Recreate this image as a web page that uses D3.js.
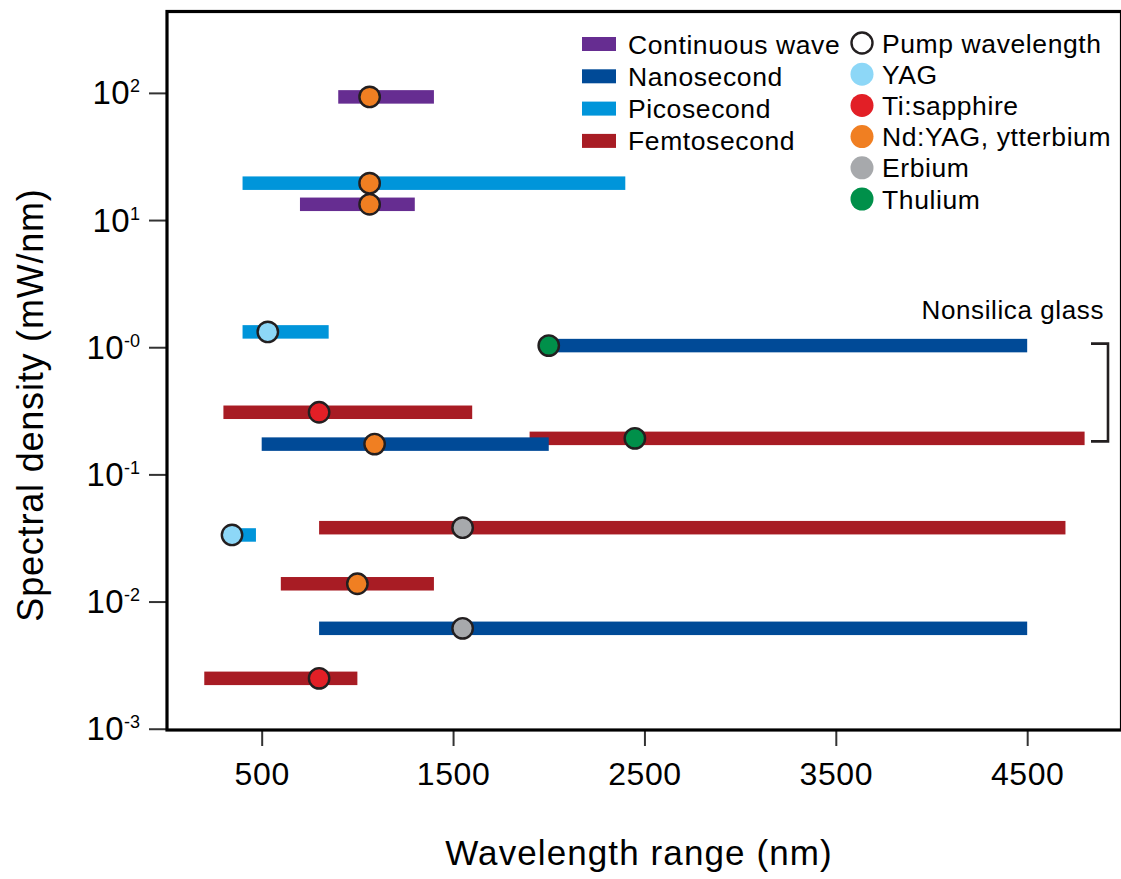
<!DOCTYPE html>
<html>
<head>
<meta charset="utf-8">
<script src="https://cdn.jsdelivr.net/npm/d3@7"></script>
<style>
  html, body { margin: 0; padding: 0; background: #fff; }
  svg { display: block; font-family: "Liberation Sans", Arial, Helvetica, sans-serif; }
</style>
</head>
<body>
<svg id="chart" width="1121" height="879"></svg>
<script>
// Pulse regimes (bar colour)
const regimeNames  = ["Continuous wave", "Nanosecond", "Picosecond", "Femtosecond"];
const regimeColors = ["#662d91", "#004a97", "#0095da", "#a81c24"];

// Pump lasers (dot colour)
const pumpNames  = ["YAG", "Ti:sapphire", "Nd:YAG, ytterbium", "Erbium", "Thulium"];
const pumpColors = ["#8dd7f7", "#e21f26", "#f07f22", "#a7a9ac", "#00904a"];

// One entry per supercontinuum source
const srcRegime  = ["Continuous wave", "Picosecond", "Continuous wave", "Picosecond", "Nanosecond",
                    "Femtosecond", "Femtosecond", "Nanosecond", "Femtosecond", "Picosecond",
                    "Femtosecond", "Nanosecond", "Femtosecond"];
const srcMinNm   = [900, 400, 700, 400, 2000, 300, 1900, 500, 800, 345, 600, 800, 200];
const srcMaxNm   = [1400, 2400, 1300, 850, 4500, 1600, 4800, 2000, 4700, 470, 1400, 4500, 1000];
const srcDensity = [93, 19.5, 13.3, 1.32, 1.03, 0.308, 0.192, 0.173, 0.0381, 0.0334, 0.0138, 0.00616, 0.00249];
const srcPumpNm  = [1064, 1064, 1064, 532, 2000, 800, 2450, 1090, 1550, 345, 1000, 1550, 800];
const srcPump    = ["Nd:YAG, ytterbium", "Nd:YAG, ytterbium", "Nd:YAG, ytterbium", "YAG", "Thulium",
                    "Ti:sapphire", "Thulium", "Nd:YAG, ytterbium", "Erbium", "YAG",
                    "Nd:YAG, ytterbium", "Erbium", "Ti:sapphire"];

// Sources fabricated in nonsilica glass (bracketed)
const nonsilicaIdx = [4, 6];

// Axis ticks
const xTicks   = [500, 1500, 2500, 3500, 4500];
const yTicks   = [1e2, 1e1, 1e0, 1e-1, 1e-2, 1e-3];
const yTickExp = ["2", "1", "-0", "-1", "-2", "-3"];

const svg = d3.select("#chart");
const ink = "#231f20";

const x = d3.scaleLinear().domain([0, 4985]).range([166, 1120]);
const y = d3.scaleLog().domain([Math.pow(10, -3.01), Math.pow(10, 2.64)]).range([730, 11.5]);

const regimeColor = d3.scaleOrdinal().domain(regimeNames).range(regimeColors);
const pumpColor   = d3.scaleOrdinal().domain(pumpNames).range(pumpColors);

const rows = srcRegime.map((r, i) => ({
  regime: r, lo: srcMinNm[i], hi: srcMaxNm[i], d: srcDensity[i], pumpNm: srcPumpNm[i], pump: srcPump[i]
}));

// Bottom axis
const xAxis = d3.axisBottom(x).tickValues(xTicks).tickSize(16).tickPadding(16).tickFormat(d3.format("d"));
const gx = svg.append("g").attr("transform", "translate(0,730)").call(xAxis);
gx.select(".domain").remove();
gx.selectAll(".tick line").attr("stroke", "#333").attr("stroke-width", 2);
gx.selectAll(".tick text").attr("fill", "#000").attr("font-size", 32)
  .attr("font-family", "Liberation Sans, Arial, sans-serif").attr("letter-spacing", 0.6);

// Left axis with power-of-ten labels
const yAxis = d3.axisLeft(y).tickValues(yTicks).tickSize(17).tickFormat("");
const gy = svg.append("g").attr("transform", "translate(166,0)").call(yAxis);
gy.select(".domain").remove();
gy.selectAll(".tick line").attr("stroke", "#333").attr("stroke-width", 2);
gy.selectAll(".tick text").each(function (d, i) {
  const t = d3.select(this).attr("x", -26).attr("dy", null).attr("y", 11)
    .attr("fill", "#000").attr("text-anchor", "end")
    .attr("font-family", "Liberation Sans, Arial, sans-serif");
  t.text(null);
  t.append("tspan").attr("font-size", 33).attr("letter-spacing", 0.4).text("10");
  t.append("tspan").attr("font-size", 18).attr("dy", -12).text(yTickExp[i]);
});

// Plot frame
svg.append("rect")
  .attr("x", 167).attr("y", 11.5)
  .attr("width", 1121.5 - 167).attr("height", 730 - 11.5)
  .attr("fill", "none").attr("stroke", "#000").attr("stroke-width", 3.2);

// Wavelength-range bars
const barH = 13.5;
svg.append("g").selectAll("rect").data(rows).join("rect")
  .attr("x", d => x(d.lo))
  .attr("y", d => y(d.d) - barH / 2)
  .attr("width", d => x(d.hi) - x(d.lo))
  .attr("height", barH)
  .attr("fill", d => regimeColor(d.regime));

// Pump-wavelength dots
svg.append("g").selectAll("circle").data(rows).join("circle")
  .attr("cx", d => x(d.pumpNm))
  .attr("cy", d => y(d.d))
  .attr("r", 10.2)
  .attr("fill", d => pumpColor(d.pump))
  .attr("stroke", ink).attr("stroke-width", 2.4);

// Nonsilica glass bracket
const bTop = y(rows[nonsilicaIdx[0]].d) - 2;
const bBot = y(rows[nonsilicaIdx[1]].d) + 3;
svg.append("path")
  .attr("d", `M1091,${bTop}H1108V${bBot}H1091`)
  .attr("fill", "none").attr("stroke", ink).attr("stroke-width", 2.6);
svg.append("text")
  .attr("x", 1104).attr("y", 319).attr("text-anchor", "end")
  .attr("font-size", 26).attr("letter-spacing", 0.6).attr("fill", "#000")
  .text("Nonsilica glass");

// Legend: pulse regimes
const legL = svg.append("g");
regimeNames.forEach((n, i) => {
  const cy = 44 + i * 32.3;
  legL.append("rect").attr("x", 582).attr("y", cy - 7).attr("width", 34).attr("height", 14)
    .attr("fill", regimeColors[i]);
  legL.append("text").attr("x", 628).attr("y", cy + 9.5)
    .attr("font-size", 26.5).attr("letter-spacing", 0.6).attr("fill", "#000").text(n);
});

// Legend: pump lasers
const legR = svg.append("g");
const pumpRows = ["Pump wavelength"].concat(pumpNames);
pumpRows.forEach((n, i) => {
  const cy = 43 + i * 31.2;
  legR.append("circle").attr("cx", 862).attr("cy", cy).attr("r", i === 0 ? 10.5 : 11.5)
    .attr("fill", i === 0 ? "#fff" : pumpColors[i - 1])
    .attr("stroke", i === 0 ? ink : "none").attr("stroke-width", 2.4);
  legR.append("text").attr("x", 882).attr("y", cy + 9.5)
    .attr("font-size", 26.5).attr("letter-spacing", 0.6).attr("fill", "#000").text(n);
});

// Axis titles
svg.append("text")
  .attr("x", 639).attr("y", 865).attr("text-anchor", "middle")
  .attr("font-size", 35).attr("letter-spacing", 1.1).attr("fill", "#000")
  .text("Wavelength range (nm)");
svg.append("text")
  .attr("transform", "translate(43,405) rotate(-90)").attr("text-anchor", "middle")
  .attr("font-size", 36).attr("letter-spacing", 0.8).attr("fill", "#000")
  .text("Spectral density (mW/nm)");
</script>
</body>
</html>
